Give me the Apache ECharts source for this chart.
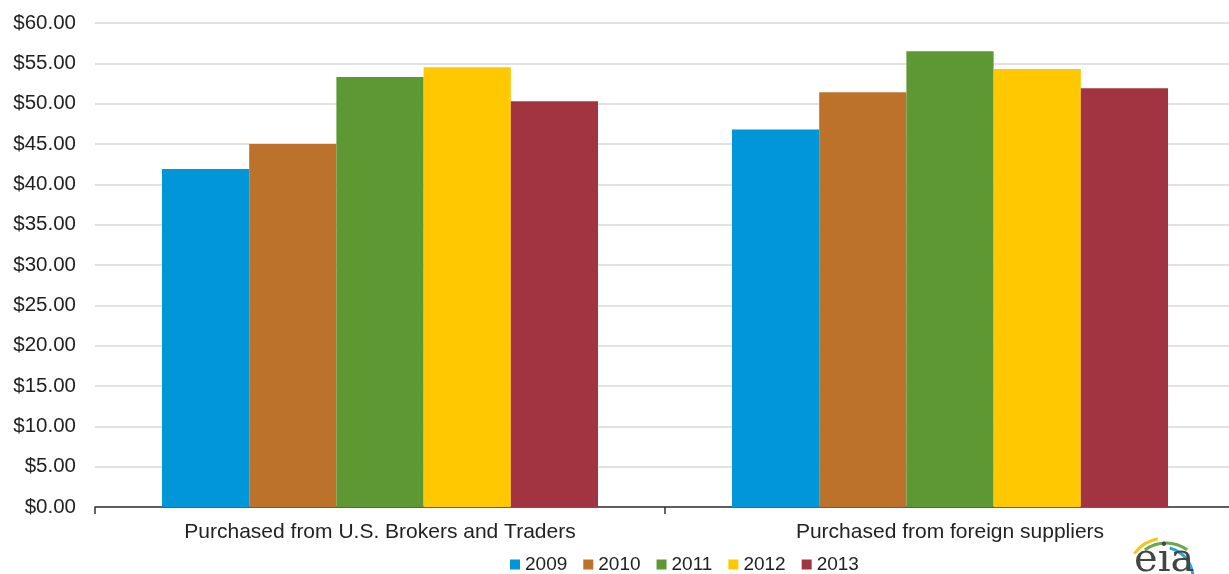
<!DOCTYPE html>
<html>
<head>
<meta charset="utf-8">
<script src="https://cdn.jsdelivr.net/npm/echarts@6/dist/echarts.min.js"></script>
<style>
html,body{margin:0;padding:0;background:#fff;overflow:hidden;}
#chart{width:1229px;height:574px;}
</style>
</head>
<body>
<div id="chart"></div>
<script>
const categories = ['Purchased from U.S. Brokers and Traders', 'Purchased from foreign suppliers'];
const years = ['2009', '2010', '2011', '2012', '2013'];
const v2009 = [41.9, 46.8];
const v2010 = [45.0, 51.4];
const v2011 = [53.3, 56.5];
const v2012 = [54.5, 54.3];
const v2013 = [50.3, 51.9];
const seriesValues = [v2009, v2010, v2011, v2012, v2013];
const colors = ['#0096d7', '#bc722a', '#5e9833', '#ffc800', '#a23341'];

const chart = echarts.init(document.getElementById('chart'));
const textColor = '#222';
const font = 'Liberation Sans, Arial, sans-serif';

chart.setOption({
  animation: false,
  color: colors,
  grid: { left: 95, width: 1140, top: 23, bottom: 67, containLabel: false, outerBoundsMode: 'none' },
  legend: {
    data: years,
    left: 505,
    top: 550,
    itemWidth: 10,
    itemHeight: 10,
    itemGap: 16,
    icon: 'rect',
    textStyle: { color: textColor, fontSize: 19, fontFamily: font }
  },
  xAxis: {
    type: 'category',
    data: categories,
    axisLine: { show: true, lineStyle: { color: '#333', width: 1.5 } },
    axisTick: { show: true, length: 7, lineStyle: { color: '#333', width: 1.5 } },
    axisLabel: { color: textColor, fontSize: 21, fontFamily: font, margin: 15 },
    splitLine: { show: false }
  },
  yAxis: {
    type: 'value',
    min: 0, max: 60, interval: 5,
    axisLine: { show: false },
    axisTick: { show: false },
    axisLabel: {
      color: textColor, fontSize: 20.5, fontFamily: font, margin: 19,
      formatter: v => '$' + v.toFixed(2)
    },
    splitLine: { lineStyle: { color: '#d9d9d9', width: 1.5 } }
  },
  series: years.map((y, i) => ({
    name: y,
    type: 'bar',
    data: seriesValues[i],
    barGap: '0%',
    barCategoryGap: '23.5%',
    itemStyle: { color: colors[i] }
  })),
  graphic: [
    { type: 'arc', shape: { cx: 1165, cy: 576, r: 38, startAngle: -Math.PI * 0.80, endAngle: -Math.PI * 0.56 }, style: { stroke: '#f5c518', lineWidth: 3, fill: null } },
    { type: 'arc', shape: { cx: 1166, cy: 579, r: 36, startAngle: -Math.PI * 0.70, endAngle: -Math.PI * 0.30 }, style: { stroke: '#6aa84f', lineWidth: 3, fill: null } },
    { type: 'arc', shape: { cx: 1162, cy: 578, r: 31, startAngle: -Math.PI * 0.42, endAngle: -Math.PI * 0.02 }, style: { stroke: '#2aa5dc', lineWidth: 3, fill: null } },
    { type: 'text', left: 1134, top: 541, style: { text: 'eia', font: '40px "DejaVu Serif", serif', fill: '#444' } }
  ]
});
</script>
</body>
</html>
